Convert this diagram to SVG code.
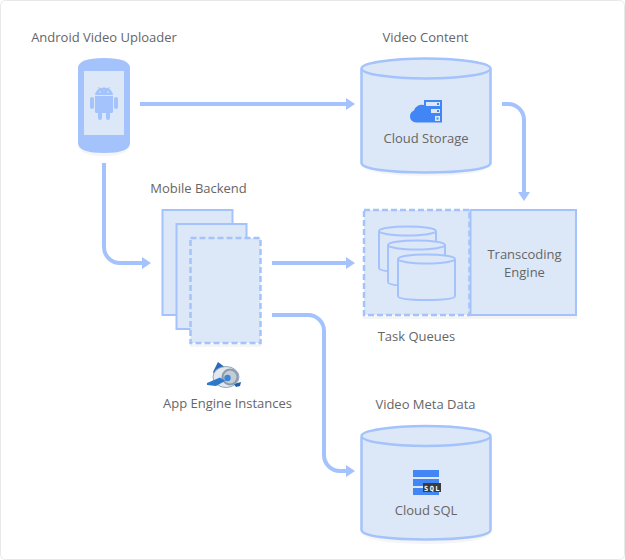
<svg xmlns="http://www.w3.org/2000/svg" width="625" height="560" viewBox="0 0 625 560">
<style>
text{font-family:"Open Sans","Noto Sans",sans-serif;font-size:13px;fill:#666;text-anchor:middle}
.s{fill:#dce8f7;stroke:#a4c2fb;stroke-width:2}
.l{fill:#dce8f7;stroke:#a4c2fb;stroke-width:2.500}
.m{fill:none;stroke:#a4c2fb;stroke-width:2}
.d{stroke-dasharray:6 3;stroke-width:2.500}
.sh{fill:#000;opacity:.04}
.c{fill:none;stroke:#a4c2fb;stroke-width:4;marker-end:url(#a)}
.b{fill:#4285f4}
.p{fill:#a4c2fb}
</style>
<defs>
<marker id="a" markerUnits="userSpaceOnUse" markerWidth="10" markerHeight="12" refX="6" refY="6" orient="auto"><path d="M0 0L9 6L0 12Z" fill="#a4c2fb"/></marker>
</defs>
<rect id="card" x=".5" y=".5" width="624" height="559" rx="5" fill="#fff" stroke="#e8e8e8"/>
<g id="connectors">
<path class="c" d="M140 104H352"/>
<path class="c" d="M502 104H508A16 16 0 0 1 524 120V198"/>
<path class="c" d="M104 163V247A16 16 0 0 0 120 263H148"/>
<path class="c" d="M272 263H352"/>
<path class="c" d="M272 315H308A16 16 0 0 1 324 331V455A16 16 0 0 0 340 471H352"/>
</g>
<g id="phone">
<text x="104" y="42">Android Video Uploader</text>
<path class="sh" d="M78 146Q80 156 104 156Q128 156 130 146Z"/>
<path class="p" d="M78 68Q78 58 104 58Q130 58 130 68V143Q130 153 104 153Q78 153 78 143Z"/>
<rect x="84" y="71" width="40" height="64" fill="#dce8f7"/>
<g class="p"><path d="M95 95A9 7.500 0 0 1 113 95Z"/><path d="M95 96H113V111.500A1.500 1.500 0 0 1 111.500 113H96.500A1.500 1.500 0 0 1 95 111.500Z"/><rect x="90" y="97" width="4" height="12" rx="2"/><rect x="114" y="97" width="4" height="12" rx="2"/><rect x="98" y="111" width="4" height="9" rx="2"/><rect x="106" y="111" width="4" height="9" rx="2"/><path d="M98 87.500L99 87 101 90 100 90.500ZM110 87.500L109 87 107 90 108 90.500Z"/></g>
<circle cx="100" cy="92" r=".8" fill="#dce8f7"/><circle cx="108" cy="92" r=".8" fill="#dce8f7"/>
</g>
<g id="video-content">
<text x="425.500" y="42">Video Content</text>
<path class="sh" d="M361 166Q370 176 426 176Q482 176 491 166Z"/>
<path class="l" d="M361.500 69V163C361.500 169 390 172.500 426 172.500C462 172.500 490.500 169 490.500 163V69"/>
<ellipse class="l" cx="426" cy="68.500" rx="64.500" ry="10"/>
<path class="b" d="M424 100H442V122.500H416A6 6 0 0 1 410 116.500A6.500 6.500 0 0 1 414 110.500A8 8 0 0 1 424 105Z"/>
<g fill="#dce8f7"><path d="M426 102H440V106H426ZM431 109H440V113H431ZM435 116H440V121H435Z"/></g>
<g class="b"><rect x="437" y="103" width="2" height="2"/><rect x="437" y="110" width="2" height="2"/><rect x="436.500" y="117.500" width="2" height="2"/></g>
<text x="426" y="143">Cloud Storage</text>
</g>
<g id="mobile-backend">
<text x="198.500" y="193">Mobile Backend</text>
<rect class="sh" x="190" y="344" width="71" height="3"/>
<rect class="s" x="162.500" y="210" width="70" height="105"/>
<rect class="s" x="176.500" y="224" width="70" height="105"/>
<rect class="s d" x="190.500" y="238" width="70" height="105"/>
<path fill="#2c6ab8" d="M218 362L226 368 217 378 213 372Z"/>
<ellipse cx="226" cy="377" rx="13" ry="10.500" fill="#e3e8ee" stroke="#7f93ad" stroke-width=".8"/>
<path fill="#1f5ea8" d="M234 384L241 382 240 386 236 387Z"/>
<circle cx="230" cy="377" r="8.500" fill="#8d9aac"/><circle cx="230" cy="377" r="6.500" fill="#c4ccd6"/><circle cx="227.500" cy="378" r="3.200" fill="#3a86d6"/>
<path fill="#2f78c9" d="M207 383L220 377.500 225 381 216 386 207 385Z"/>
<text x="227.500" y="408">App Engine Instances</text>
</g>
<g id="task-queues">
<rect class="sh" x="363" y="316" width="107" height="3"/>
<rect class="s d" x="364" y="210" width="105.500" height="105"/>
<path class="m" d="M379 231V268C379 271 391 272 407 272C423 272 436 271 436 268V231"/><ellipse class="s" cx="407.500" cy="231" rx="28.500" ry="4.500"/>
<path class="s" d="M388 245V282C388 285 400 286 416 286C432 286 445 285 445 282V245"/><ellipse class="s" cx="416.500" cy="245" rx="28.500" ry="4.500"/>
<path class="s" d="M398 259V296C398 299 410 300 426 300C442 300 455 299 455 296V259"/><ellipse class="s" cx="426.500" cy="259" rx="28.500" ry="4.500"/>
<text x="416.500" y="341">Task Queues</text>
</g>
<g id="transcoding-engine">
<rect class="sh" x="470" y="316" width="107" height="3"/>
<rect class="s" x="470.500" y="210" width="105.500" height="105"/>
<text x="524.500" y="259">Transcoding</text>
<text x="524.500" y="277">Engine</text>
</g>
<g id="video-meta-data">
<text x="425.500" y="409">Video Meta Data</text>
<path class="sh" d="M361 533Q370 544 426 544Q482 544 491 533Z"/>
<path class="l" d="M361.500 437V530C361.500 536 390 539.500 426 539.500C462 539.500 490.500 536 490.500 530V437"/>
<ellipse class="l" cx="426" cy="436" rx="64.500" ry="10"/>
<rect class="b" x="413" y="470" width="26" height="7"/><rect class="b" x="413" y="479" width="26" height="7"/><rect class="b" x="413" y="488" width="26" height="7"/>
<rect x="423" y="483" width="18" height="9" fill="#3c3c3c"/>
<text x="432.500" y="490.500" style="font-family:'DejaVu Sans Mono',monospace;font-size:7px;font-weight:700;fill:#fff;letter-spacing:1.500px">SQL</text>
<text x="426" y="515">Cloud SQL</text>
</g>
</svg>
